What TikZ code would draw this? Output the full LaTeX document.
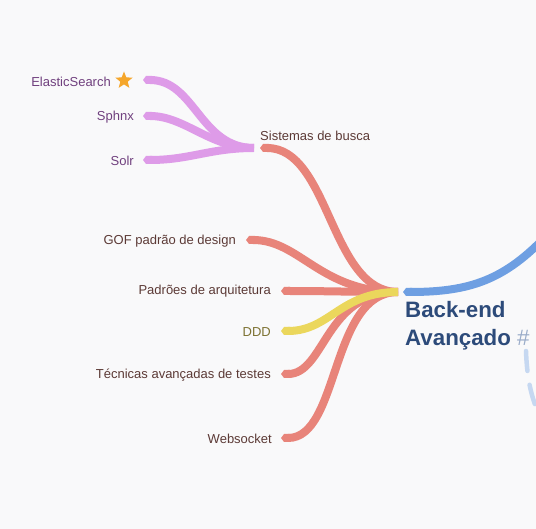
\documentclass[tikz,border=0pt]{standalone}
\usepackage{fontspec}
\setmainfont{Liberation Sans}
\usetikzlibrary{arrows.meta,shapes.geometric}
\definecolor{bg}{HTML}{F9F9FA}
\definecolor{redbr}{HTML}{E8847A}
\definecolor{purbr}{HTML}{DE9BE8}
\definecolor{yelbr}{HTML}{EBD75C}
\definecolor{bluebr}{HTML}{6E9FE2}
\definecolor{dashbl}{HTML}{C6D8F1}
\definecolor{redtx}{HTML}{5C3A36}
\definecolor{purtx}{HTML}{70407E}
\definecolor{yeltx}{HTML}{7D7232}
\definecolor{titletx}{HTML}{2D4B7A}
\definecolor{hashtx}{HTML}{9AACC9}
\definecolor{startx}{HTML}{F5A62B}
\begin{document}
\begin{tikzpicture}[x=1pt,y=-1pt,
  branch/.style={line width=8pt,line cap=butt,{Triangle Cap[length=3pt]}-},
  redb/.style={branch,draw=redbr},
  purb/.style={branch,draw=purbr},
  yelb/.style={branch,draw=yelbr},
  lbl/.style={inner sep=0pt,font=\fontsize{13}{15}\selectfont},
  redl/.style={lbl,text=redtx},
  purl/.style={lbl,text=purtx},
  yell/.style={lbl,text=yeltx}]
\fill[bg] (0,0) rectangle (536,529);
\useasboundingbox (0,0) rectangle (536,529);

% hubs
\coordinate (H) at (398,292);
\coordinate (HB) at (403,292);
\coordinate (P) at (254,148);
\coordinate (BE) at (548,234);
\coordinate (D1) at (526,351);
\coordinate (D2) at (540,416);

% leaves
\coordinate (lS) at (260,148);
\coordinate (lG) at (246,240);
\coordinate (lP) at (281,291);
\coordinate (lD) at (281,331);
\coordinate (lT) at (281,374);
\coordinate (lW) at (281,438);
\coordinate (lE) at (143,80);
\coordinate (lX) at (143,116);
\coordinate (lR) at (143,160);

% connectors
\draw[purb] (lE) .. controls (195,80) and (200,148) .. (P);
\draw[purb] (lX) .. controls (185,116) and (210,148) .. (P);
\draw[purb] (lR) .. controls (190,160) and (210,148) .. (P);

\draw[redb] (lS) .. controls (330,148) and (330,292) .. (H);
\draw[redb] (lG) .. controls (300,240) and (320,292) .. (H);
\draw[redb] (lP) .. controls (330,291) and (350,292) .. (H);
\draw[redb] (lT) .. controls (325,374) and (325,292) .. (H);
\draw[redb] (lW) .. controls (340,438) and (330,292) .. (H);
\draw[yelb] (lD) .. controls (330,331) and (340,292) .. (H);

\draw[branch,draw=bluebr] (HB) .. controls (470,292) and (505,280) .. (BE);
\draw[draw=dashbl,line width=4.5pt,line cap=round,dash pattern=on 20pt off 14pt]
  (D1) .. controls (527,378) and (531,398) .. (D2);

% labels
\node[purl,anchor=east] (tE) at (111,82) {ElasticSearch};
\node[star,star points=5,star point ratio=2.3,fill=startx,inner sep=0pt,minimum size=18pt] (star) at (124,80.5) {};
\node[purl,anchor=east] (tX) at (134,117) {Sphnx};
\node[purl,anchor=east] (tR) at (134,161) {Solr};
\node[redl,anchor=west] (tS) at (260,136) {Sistemas de busca};
\node[redl,anchor=east] (tG) at (236,241) {GOF padrão de design};
\node[redl,anchor=east] (tP) at (271,291) {Padrões de arquitetura};
\node[yell,anchor=east] (tD) at (271,332) {DDD};
\node[redl,anchor=east] (tT) at (271,375) {Técnicas avançadas de testes};
\node[redl,anchor=east] (tW) at (272,439) {Websocket};

\node[anchor=north west,inner sep=0pt,align=left,text=titletx,
  font=\fontsize{22.3}{28}\selectfont\bfseries] (title) at (405,301)
  {Back-end\\Avançado {\mdseries\color{hashtx}\#}};
\end{tikzpicture}
\end{document}
